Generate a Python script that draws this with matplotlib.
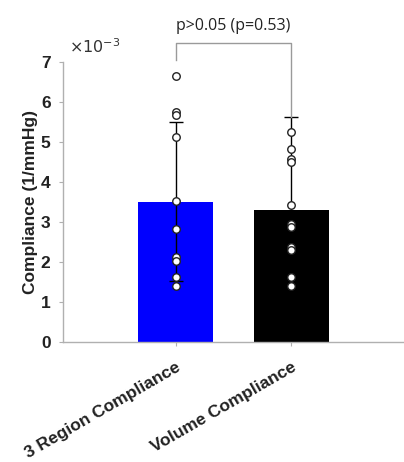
import matplotlib
matplotlib.use("Agg")
import matplotlib.pyplot as plt
import numpy as np

# Compliance values, in units of 1e-3 (1/mmHg)
categories = ["3 Region Compliance", "Volume Compliance"]
means = [3.50, 3.29]
errors = [1.98, 2.33]
region_points = [6.64, 5.75, 5.67, 5.12, 3.52, 2.82, 2.11, 2.02, 1.63, 1.39]
volume_points = [5.25, 4.83, 4.58, 4.50, 3.42, 2.94, 2.88, 2.38, 2.29, 1.63, 1.39]
bar_colors = ["#0000ff", "#000000"]
y_ticks = [0, 1, 2, 3, 4, 5, 6, 7]
p_label = "p>0.05 (p=0.53)"

plt.rcParams["font.family"] = ["Liberation Sans", "DejaVu Sans"]

fig = plt.figure(figsize=(4.04, 4.62), dpi=100)
ax = fig.add_axes([63 / 404, 1 - 341.7 / 462, 1 - 63 / 404, (341.7 - 61.7) / 462])

x = np.arange(1, len(categories) + 1)
ax.bar(x, means, width=0.65, color=bar_colors, edgecolor="none", zorder=1)
ax.errorbar(x, means, yerr=errors, fmt="none", ecolor="#000000",
            elinewidth=1.0, capsize=5, capthick=1.0, zorder=2)

for xi, pts in zip(x, [region_points, volume_points]):
    ax.plot(np.full(len(pts), xi), pts, linestyle="none", marker="o",
            markersize=5.4, markerfacecolor="white", markeredgecolor="#222222",
            markeredgewidth=1.0, zorder=3, clip_on=False)

# significance bracket
top = 7.47
ax.plot([x[0], x[0], x[1], x[1]], [7.04, top, top, means[1] + errors[1]],
        color="#9a9a9a", lw=1.0, clip_on=False, zorder=4)
ax.text((x[0] + x[1]) / 2, top + 0.22, p_label, ha="center", va="bottom",
        fontsize=11.5, color="#222222", family=["Open Sans", "DejaVu Sans"])

ax.set_xlim(0.03, 2.97)
ax.set_ylim(0, 7)
ax.set_yticks(y_ticks)
ax.set_yticklabels([str(t) for t in y_ticks], fontsize=12.5, fontweight="bold",
                   color="#222222")
ax.set_xticks(x)
ax.set_xticklabels(categories, rotation=30, ha="right", rotation_mode="anchor",
                   fontsize=12.5, fontweight="bold", color="#222222")

for side in ("top", "right"):
    ax.spines[side].set_visible(False)
for side in ("left", "bottom"):
    ax.spines[side].set_color("#b0b0b0")
    ax.spines[side].set_linewidth(1.0)
ax.tick_params(axis="y", direction="out", length=3, color="#b0b0b0", pad=6)
ax.tick_params(axis="x", direction="out", length=3, color="#b0b0b0", pad=10)

ax.set_ylabel("Compliance (1/mmHg)", fontsize=12.5, fontweight="bold",
              color="#222222", labelpad=2)
ax.text(0.08, 7.15, r"$\times10^{-3}$", transform=ax.transData, fontsize=11.5,
        color="#333333", ha="left", va="bottom")

fig.savefig("out.png", dpi=100, facecolor="white")
